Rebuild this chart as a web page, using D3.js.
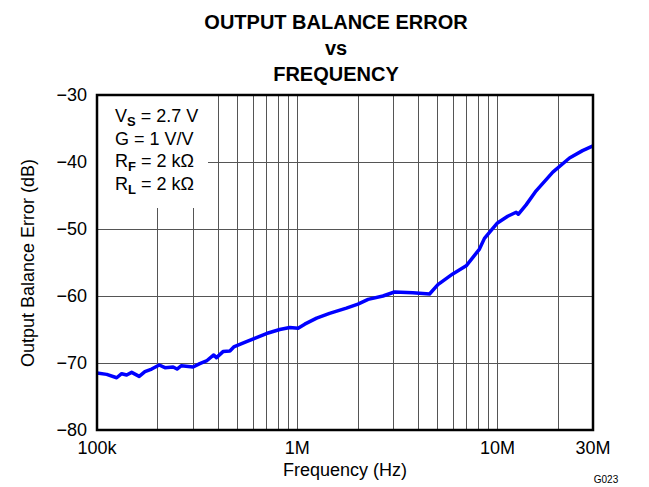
<!DOCTYPE html>
<html lang="en">
<head>
<meta charset="UTF-8">
<title>Output Balance Error vs Frequency</title>
<script src="https://d3js.org/d3.v7.min.js"></script>
<style>
  html,body{margin:0;padding:0;background:#fff;}
  svg{display:block;font-family:"Liberation Sans",Arial,sans-serif;}
  .grid line{stroke:#555;stroke-width:1;}
</style>
</head>
<body>
<div id="chart"></div>
<script>
// frequency (Hz) and balance error (dB)
var freq = [100e3,111.8e3,125.4e3,132.8e3,140.6e3,149e3,162.5e3,173.5e3,187.5e3,204.5e3,218.4e3,240e3,251e3,264e3,
  302e3,326e3,352e3,383e3,395e3,426e3,461e3,482e3,558e3,626e3,702e3,818e3,918e3,1.01e6,1.09e6,1.25e6,1.45e6,1.76e6,
  2.01e6,2.26e6,2.68e6,3.06e6,3.78e6,4.58e6,5.04e6,5.98e6,6.98e6,8.13e6,8.61e6,10e6,11.25e6,12.4e6,12.7e6,13.9e6,
  15.6e6,18.9e6,22.9e6,26.6e6,30e6];
var err = [-71.5,-71.7,-72.2,-71.6,-71.8,-71.4,-72.0,-71.3,-70.9,-70.3,-70.7,-70.6,-70.9,-70.4,
  -70.6,-70.1,-69.7,-68.8,-69.2,-68.3,-68.2,-67.6,-66.8,-66.2,-65.6,-65.0,-64.7,-64.8,-64.2,-63.3,-62.6,-61.8,
  -61.2,-60.5,-60.0,-59.4,-59.5,-59.7,-58.3,-56.7,-55.5,-53.0,-51.4,-49.1,-48.1,-47.5,-47.8,-46.4,
  -44.3,-41.5,-39.4,-38.3,-37.6];

var xTicks = [1e5,1e6,1e7,3e7];
var xTickLabels = ["100k","1M","10M","30M"];
var yTicks = [-30,-40,-50,-60,-70,-80];
var xMinor = [2e5,3e5,4e5,5e5,6e5,7e5,8e5,9e5,2e6,3e6,4e6,5e6,6e6,7e6,8e6,9e6,2e7];
var legendLines = [["V","S"," = 2.7 V"],["G = 1 V/V","",""],["R","F"," = 2 k\u03a9"],["R","L"," = 2 k\u03a9"]];

var width = 649, height = 487;
var plotL = 97, plotR = 593, plotT = 95, plotB = 430;

var svg = d3.select("#chart").append("svg")
  .attr("width", width)
  .attr("height", height);

var x = d3.scaleLog().domain([1e5,3e7]).range([plotL,plotR]);
var y = d3.scaleLinear().domain([-80,-30]).range([plotB,plotT]);

// legend box area: grid is cut short near the top-left
var boxRight = 208, boxBottom = 208;

var grid = svg.append("g").attr("class","grid");
grid.selectAll("line.v").data(xMinor.concat([1e6,1e7])).enter().append("line")
  .attr("class","v")
  .attr("x1", function(d){ return Math.round(x(d))+0.5; })
  .attr("x2", function(d){ return Math.round(x(d))+0.5; })
  .attr("y1", function(d){ return x(d) < boxRight ? boxBottom : plotT; })
  .attr("y2", plotB);
grid.selectAll("line.h").data([-40,-50,-60,-70]).enter().append("line")
  .attr("class","h")
  .attr("y1", function(d){ return Math.round(y(d))+0.5; })
  .attr("y2", function(d){ return Math.round(y(d))+0.5; })
  .attr("x1", function(d){ return y(d) < boxBottom ? boxRight : plotL; })
  .attr("x2", plotR);

// data line
var line = d3.line()
  .x(function(d,i){ return x(freq[i]); })
  .y(function(d){ return y(d); });

svg.append("path")
  .datum(err)
  .attr("d", line)
  .attr("fill","none")
  .attr("stroke","#0000ff")
  .attr("stroke-width",3.5)
  .attr("stroke-linejoin","round");

// frame
svg.append("rect")
  .attr("x",plotL).attr("y",plotT)
  .attr("width",plotR-plotL).attr("height",plotB-plotT)
  .attr("fill","none").attr("stroke","#000").attr("stroke-width",2.5);

// tick labels
svg.selectAll("text.yt").data(yTicks).enter().append("text")
  .attr("class","yt")
  .attr("x",87).attr("y",function(d){ return y(d)+6; })
  .attr("text-anchor","end")
  .attr("font-size",18)
  .text(function(d){ return "\u2212"+Math.abs(d); });

svg.selectAll("text.xt").data(xTicks).enter().append("text")
  .attr("class","xt")
  .attr("x",function(d){ return x(d); })
  .attr("y",454)
  .attr("text-anchor","middle")
  .attr("font-size",18)
  .text(function(d,i){ return xTickLabels[i]; });

// titles
var title = ["OUTPUT BALANCE ERROR","vs","FREQUENCY"];
svg.selectAll("text.title").data(title).enter().append("text")
  .attr("class","title")
  .attr("x",336).attr("y",function(d,i){ return 29+i*26; })
  .attr("text-anchor","middle")
  .attr("font-size",20).attr("font-weight","bold")
  .text(function(d){ return d; });

svg.append("text")
  .attr("x",345).attr("y",476)
  .attr("text-anchor","middle").attr("font-size",18)
  .text("Frequency (Hz)");

svg.append("text")
  .attr("transform","translate(34,263) rotate(-90)")
  .attr("text-anchor","middle").attr("font-size",18)
  .text("Output Balance Error (dB)");

svg.append("text")
  .attr("x",606).attr("y",483)
  .attr("text-anchor","middle").attr("font-size",10)
  .text("G023");

// conditions legend
legendLines.forEach(function(l,i){
  var t = svg.append("text")
    .attr("x",115).attr("y",122+i*22.5)
    .attr("font-size",18);
  t.append("tspan").text(l[0]);
  if (l[1]) {
    t.append("tspan").attr("dy",4).attr("font-size",13).attr("font-weight","bold").text(l[1]);
    t.append("tspan").attr("dy",-4).text(l[2]);
  }
});
</script>
</body>
</html>
